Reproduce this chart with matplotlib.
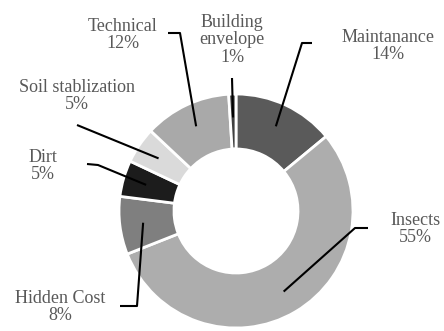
import numpy as np
import matplotlib.pyplot as plt

labels = ['Maintanance', 'Insects', 'Hidden Cost', 'Dirt',
          'Soil stablization', 'Technical', 'Building\nenvelope']
shares = [14, 55, 8, 5, 5, 12, 1]
colors = ['#5a5a5a', '#adadad', '#7f7f7f', '#1c1c1c',
          '#dadada', '#a9a9a9', '#3f3f3f']

# label text centres and leader elbows, in pixel units (y measured from bottom)
H = 331
text_pos = [(388, H - 46), (415, H - 229), (60, H - 307), (43, H - 166),
            (77, H - 96), (123, H - 35), (232, H - 40)]
elbows = [[(312, H - 43), (302, H - 43)],
          [(368, H - 228), (355, H - 228)],
          [(120, H - 306), (137, H - 306)],
          [(87, H - 164), (98, H - 165)],
          [(77, H - 125)],
          [(168, H - 33), (180, H - 33)],
          [(232, H - 78)]]

fig = plt.figure(figsize=(4.44, 3.31), dpi=100)
ax = fig.add_axes([0, 0, 1, 1])

cx, cy, R = 236, H - 211, 117
wedges, _ = ax.pie(shares, colors=colors, startangle=90, counterclock=False,
                   center=(cx, cy), radius=R, frame=True,
                   wedgeprops=dict(width=R * 0.47, edgecolor='white', linewidth=2))
ax.set_xlim(0, 444)
ax.set_ylim(0, H)
ax.axis('off')

for w, lab, s, tp, el in zip(wedges, labels, shares, text_pos, elbows):
    ang = np.deg2rad((w.theta1 + w.theta2) / 2)
    tip = (cx + 0.8 * R * np.cos(ang), cy + 0.8 * R * np.sin(ang))
    pts = el + [tip]
    ax.plot([p[0] for p in pts], [p[1] for p in pts], color='black', lw=1.5,
            solid_capstyle='butt', zorder=5)
    ax.text(tp[0], tp[1], f'{lab}\n{s}%', ha='center', va='center',
            fontsize=13, family='Liberation Serif', color='#595959',
            linespacing=1.05)

fig.savefig('out.png', dpi=100)
